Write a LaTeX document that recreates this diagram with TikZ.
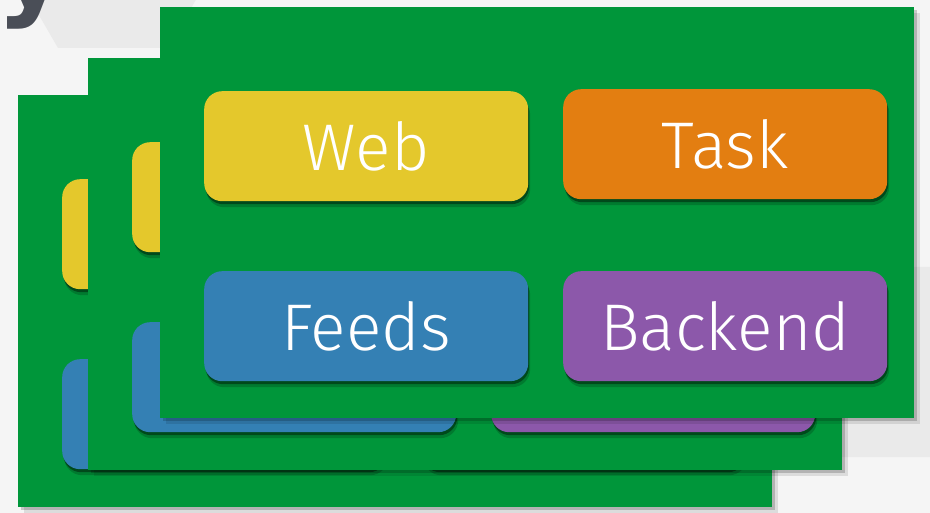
\documentclass[tikz,border=0pt]{standalone}
\usepackage{fontspec}
\setmainfont{Fira Sans Light}
\newfontfamily\titlefont{DejaVu Sans}
\usetikzlibrary{shadows}
\definecolor{slidegreen}{RGB}{0,150,58}
\definecolor{webyellow}{RGB}{228,200,44}
\definecolor{taskorange}{RGB}{227,126,17}
\definecolor{feedsblue}{RGB}{52,128,180}
\definecolor{backendpurple}{RGB}{140,88,170}
\definecolor{titlegray}{RGB}{74,78,87}
\definecolor{hexgray}{RGB}{234,234,234}

\begin{document}
\begin{tikzpicture}[x=1pt, y=-1pt,
  panel/.style={fill=slidegreen, minimum width=754pt, minimum height=412pt, inner sep=0pt, anchor=north west,
    drop shadow={shadow xshift=3pt, shadow yshift=-3pt, opacity=0.18, fill=black},
    drop shadow={shadow xshift=6pt, shadow yshift=-6pt, opacity=0.10, fill=black}},
  tier/.style={rounded corners=18pt, minimum width=324pt, minimum height=110pt, inner sep=0pt, anchor=north west,
    text=white, font=\fontsize{66}{70}\selectfont,
    drop shadow={shadow xshift=1pt, shadow yshift=-3pt, opacity=0.4, fill=black},
    drop shadow={shadow xshift=2pt, shadow yshift=-6pt, opacity=0.18, fill=black}}]
  \useasboundingbox (0,0) rectangle (930,513);
  % backdrop with faint hexagons
  \fill[white!96!black] (0,0) rectangle (930,513);
  \fill[hexgray] (58,48) -- (168,48) -- (223,-47) -- (168,-142) -- (58,-142) -- (3,-47) -- cycle;
  \fill[hexgray] (835,457) -- (945,457) -- (1000,362) -- (945,267) -- (835,267) -- (780,362) -- cycle;
  \node[font=\titlefont\bfseries\fontsize{110}{110}\selectfont, text=titlegray, anchor=base] (title) at (32,6) {y};
  % two panels behind
  \foreach \px/\py/\tag in {18/95/c, 88/58/b}{
    \node[panel] (panel\tag) at (\px,\py) {};
    \node[tier, fill=webyellow] (web\tag) at ([shift={(44,84)}]panel\tag.north west) {};
    \node[tier, fill=taskorange] (task\tag) at ([shift={(403,82)}]panel\tag.north west) {};
    \node[tier, fill=feedsblue] (feeds\tag) at ([shift={(44,264)}]panel\tag.north west) {};
    \node[tier, fill=backendpurple] (backend\tag) at ([shift={(403,264)}]panel\tag.north west) {};
  }
  % front panel
  \node[panel, minimum height=411pt] (panela) at (160,7) {};
  \node[tier, fill=webyellow] (weba) at ([shift={(44,84)}]panela.north west) {Web};
  \node[tier, fill=taskorange] (taska) at ([shift={(403,82)}]panela.north west) {Task};
  \node[tier, fill=feedsblue] (feedsa) at ([shift={(44,264)}]panela.north west) {Feeds};
  \node[tier, fill=backendpurple] (backenda) at ([shift={(403,264)}]panela.north west) {Backend};
\end{tikzpicture}
\end{document}
